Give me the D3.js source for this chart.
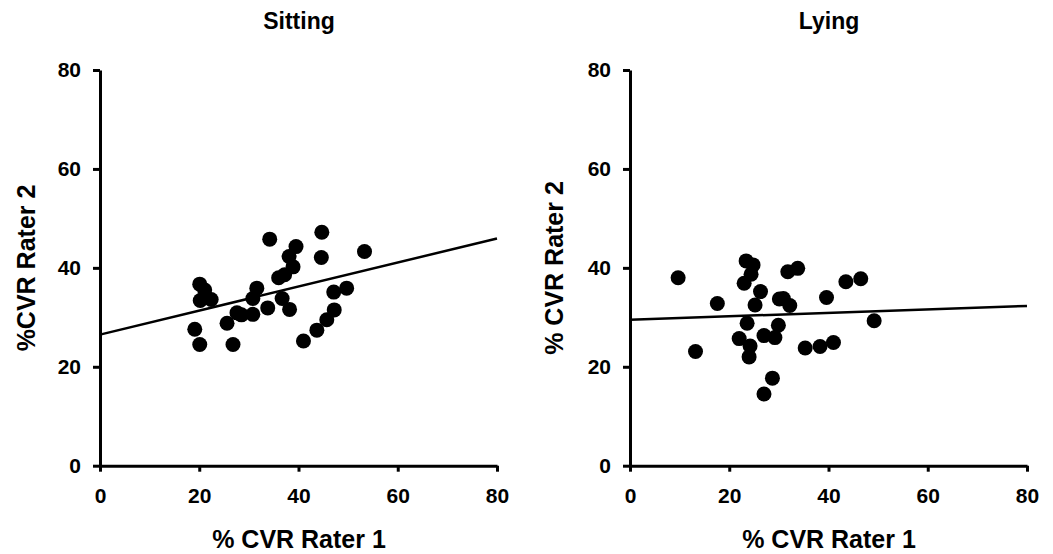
<!DOCTYPE html>
<html>
<head>
<meta charset="utf-8">
<script src="https://cdn.jsdelivr.net/npm/d3@7"></script>
<style>
  body { margin: 0; background: #fff; }
  text { font-family: "Liberation Sans", Arial, sans-serif; font-weight: bold; fill: #000; }
</style>
</head>
<body>
<svg id="chart" width="1053" height="554"></svg>
<script>
// values
const ticks = [0, 20, 40, 60, 80];

const sittingX = [34.2,44.7,39.5,38.1,44.6,53.3,38.9,37.2,36.0,20.1,21.1,22.4,20.2,31.6,30.8,36.7,33.8,38.2,27.6,28.5,30.8,47.1,49.7,47.2,45.7,43.7,41.0,25.6,19.1,20.1,26.8];
const sittingY = [45.8,47.2,44.3,42.3,42.1,43.3,40.2,38.6,38.0,36.7,35.5,33.6,33.4,35.9,33.8,33.8,31.9,31.6,30.9,30.5,30.6,35.1,35.9,31.5,29.5,27.4,25.2,28.8,27.6,24.5,24.5];
const sittingFit = [26.5, 0.243]; // intercept, slope

const lyingX = [9.7,17.6,13.2,23.4,24.8,24.4,23.0,26.3,25.2,31.8,33.8,30.9,30.1,32.2,39.6,43.5,46.5,49.2,23.6,29.9,29.2,27.0,22.0,24.2,24.0,35.3,38.3,41.0,28.7,27.0];
const lyingY = [38.0,32.8,23.1,41.4,40.6,38.7,36.9,35.2,32.5,39.2,39.9,33.8,33.7,32.4,34.0,37.2,37.8,29.3,28.8,28.4,25.9,26.3,25.7,24.2,22.0,23.8,24.1,24.9,17.7,14.5];
const lyingFit = [29.5, 0.035];

const svg = d3.select('#chart');

function panel(title, ylabel, xs, ys, fit, left, labelX) {
  const x = d3.scaleLinear().domain([0, 80]).range([left, left + 397]);
  const y = d3.scaleLinear().domain([0, 80]).range([465.7, 70]);
  const g = svg.append('g');

  const xa = g.append('g').attr('transform', 'translate(0,465.7)')
    .call(d3.axisBottom(x).tickValues(ticks).tickSize(6).tickSizeOuter(0).tickPadding(16));
  const ya = g.append('g').attr('transform', 'translate(' + left + ',0)')
    .call(d3.axisLeft(y).tickValues(ticks).tickSize(7).tickSizeOuter(0).tickPadding(12));
  [xa, ya].forEach(a => {
    a.select('.domain').attr('stroke', '#000').attr('stroke-width', 3);
    a.selectAll('.tick line').attr('stroke', '#000').attr('stroke-width', 3);
    a.selectAll('.tick text').style('font-size', '21px').style('font-family', '"Liberation Sans", Arial, sans-serif').style('font-weight', 'bold');
  });

  g.append('line')
    .attr('x1', x(0)).attr('y1', y(fit[0]))
    .attr('x2', x(80)).attr('y2', y(fit[0] + fit[1] * 80))
    .attr('stroke', '#000').attr('stroke-width', 2.5);

  g.selectAll('circle').data(xs).enter().append('circle')
    .attr('cx', d => x(d))
    .attr('cy', (d, i) => y(ys[i]))
    .attr('r', 7.5)
    .attr('fill', '#000');

  g.append('text').attr('x', left + 199).attr('y', 29)
    .attr('text-anchor', 'middle').style('font-size', '23px').text(title);
  g.append('text').attr('x', left + 199).attr('y', 548)
    .attr('text-anchor', 'middle').style('font-size', '25px').text('% CVR Rater 1');
  g.append('text').attr('transform', 'translate(' + labelX + ',268) rotate(-90)')
    .attr('text-anchor', 'middle').style('font-size', '25px').text(ylabel);
}

panel('Sitting', '%CVR Rater 2', sittingX, sittingY, sittingFit, 100, 35);
panel('Lying', '% CVR Rater 2', lyingX, lyingY, lyingFit, 630, 563);
</script>
</body>
</html>
